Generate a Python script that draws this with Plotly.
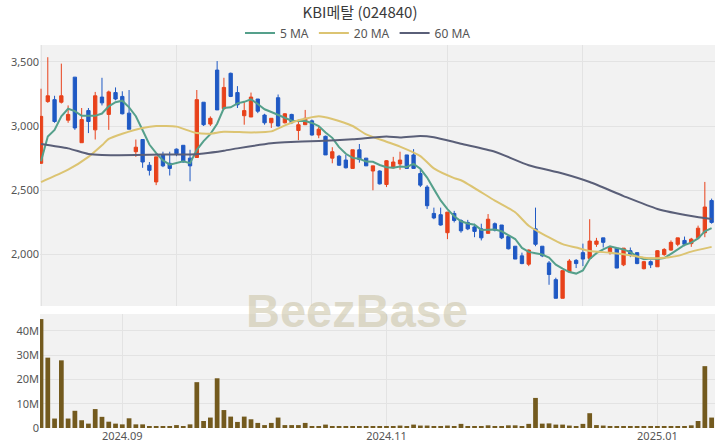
import plotly.graph_objects as go
import pandas as pd

# ---------------- data ----------------
dates = [
    "2024-08-14", "2024-08-16", "2024-08-19", "2024-08-20", "2024-08-21", "2024-08-22", "2024-08-23",
    "2024-08-26", "2024-08-27", "2024-08-28", "2024-08-29", "2024-08-30",
    "2024-09-02", "2024-09-03", "2024-09-04", "2024-09-05", "2024-09-06",
    "2024-09-09", "2024-09-10", "2024-09-11", "2024-09-12", "2024-09-13",
    "2024-09-19", "2024-09-20", "2024-09-23", "2024-09-24", "2024-09-25", "2024-09-26", "2024-09-27",
    "2024-09-30", "2024-10-02", "2024-10-04", "2024-10-07", "2024-10-08", "2024-10-10", "2024-10-11",
    "2024-10-14", "2024-10-15", "2024-10-16", "2024-10-17", "2024-10-18",
    "2024-10-21", "2024-10-22", "2024-10-23", "2024-10-24", "2024-10-25",
    "2024-10-28", "2024-10-29", "2024-10-30", "2024-10-31",
    "2024-11-01", "2024-11-04", "2024-11-05", "2024-11-06", "2024-11-07", "2024-11-08",
    "2024-11-11", "2024-11-12", "2024-11-13", "2024-11-14", "2024-11-15",
    "2024-11-18", "2024-11-19", "2024-11-20", "2024-11-21", "2024-11-22",
    "2024-11-25", "2024-11-26", "2024-11-27", "2024-11-28", "2024-11-29",
    "2024-12-02", "2024-12-03", "2024-12-04", "2024-12-05", "2024-12-06",
    "2024-12-09", "2024-12-10", "2024-12-11", "2024-12-12", "2024-12-13",
    "2024-12-16", "2024-12-17", "2024-12-18", "2024-12-19", "2024-12-20",
    "2024-12-23", "2024-12-24", "2024-12-26", "2024-12-27", "2024-12-30",
    "2025-01-02", "2025-01-03", "2025-01-06", "2025-01-07", "2025-01-08", "2025-01-09", "2025-01-10",
    "2025-01-13", "2025-01-14",
]

opens = [2710, 3190, 3205, 3185, 3045, 3380, 2870, 3120, 2970, 3225,
         3090, 3260, 3230, 3100, 2800, 2895, 2695, 2565, 2775, 2710,
         2820, 2850, 2750, 2755, 3185, 3015, 3435, 3135, 3410, 3260,
         3080, 3070, 3210, 3085, 3025, 3220, 3025, 3090, 2965, 3010,
         3040, 2930, 2920, 2750, 2765, 2735, 2670, 2815, 2750, 2650,
         2650, 2545, 2675, 2705, 2775, 2775, 2630, 2525, 2320, 2310,
         2170, 2320, 2265, 2250, 2215, 2200, 2165, 2240, 2230, 2140,
         2065, 1990, 1925, 2200, 2065, 1935, 1805, 1660, 1865, 1955,
         2015, 1970, 2080, 2130, 2015, 2050, 1920, 2030, 2015, 1890,
         1945, 1905, 2000, 2035, 2080, 2110, 2085, 2130, 2170, 2420]
highs = [3290, 3535, 3235, 3485, 3160, 3380, 3140, 3140, 3265, 3375,
         3275, 3300, 3270, 3280, 2895, 2895, 2720, 2760, 2800, 2800,
         2825, 2850, 2815, 3280, 3185, 3075, 3505, 3375, 3415, 3310,
         3190, 3260, 3210, 3095, 3060, 3245, 3100, 3095, 3050, 3125,
         3050, 2995, 2925, 2835, 2775, 2775, 2815, 2860, 2750, 2690,
         2655, 2735, 2760, 2800, 2775, 2820, 2660, 2540, 2365, 2365,
         2330, 2340, 2275, 2270, 2240, 2240, 2315, 2250, 2230, 2145,
         2065, 2015, 2040, 2365, 2065, 1950, 1820, 1875, 1965, 1965,
         2085, 2275, 2130, 2130, 2065, 2050, 2050, 2055, 2015, 1950,
         1955, 2035, 2050, 2110, 2130, 2140, 2130, 2225, 2565, 2435]
lows = [2705, 3180, 3025, 3175, 3025, 2970, 2870, 2945, 2895, 3160,
        2970, 3200, 3090, 2975, 2760, 2675, 2615, 2540, 2680, 2615,
        2765, 2715, 2570, 2755, 3000, 3000, 3125, 3125, 3225, 3140,
        3010, 3070, 3100, 3010, 2985, 2995, 3020, 3015, 2890, 3010,
        2925, 2905, 2775, 2710, 2690, 2670, 2670, 2715, 2690, 2500,
        2545, 2525, 2670, 2660, 2670, 2670, 2525, 2355, 2275, 2225,
        2120, 2250, 2170, 2190, 2135, 2110, 2165, 2180, 2120, 2040,
        1965, 1925, 1910, 2065, 1980, 1765, 1660, 1660, 1860, 1895,
        1910, 1970, 2060, 2055, 2000, 1895, 1910, 1980, 1925, 1885,
        1895, 1905, 1990, 2030, 2065, 2065, 2060, 2120, 2135, 2240]
closes = [3075, 3235, 3035, 3235, 3090, 2985, 3050, 3035, 3235, 3180,
          3265, 3210, 3095, 2975, 2835, 2720, 2655, 2760, 2690, 2670,
          2785, 2720, 2690, 3205, 3010, 3060, 3125, 3300, 3230, 3165,
          3120, 3225, 3115, 3025, 3060, 3000, 3095, 3025, 3010, 3060,
          2930, 2975, 2775, 2800, 2695, 2675, 2815, 2740, 2690, 2690,
          2550, 2730, 2720, 2735, 2670, 2670, 2540, 2380, 2285, 2230,
          2330, 2265, 2185, 2200, 2180, 2130, 2275, 2190, 2130, 2045,
          1965, 1930, 2035, 2080, 1990, 1845, 1660, 1875, 1950, 1930,
          1965, 2105, 2105, 2095, 2055, 1895, 2050, 2000, 1930, 1945,
          1920, 2030, 2040, 2095, 2130, 2080, 2120, 2205, 2370, 2250]
volumes_m = [44.9, 29.0, 3.9, 27.9, 3.9, 7.1, 3.2, 1.8, 7.8, 4.6,
             2.6, 1.8, 1.5, 4.0, 1.5, 1.5, 0.8, 0.8, 0.8, 0.8,
             1.2, 0.6, 1.5, 18.9, 2.9, 4.3, 20.5, 7.4, 4.7, 2.5,
             4.7, 3.6, 2.1, 1.2, 2.1, 4.3, 1.2, 1.2, 1.2, 2.1,
             0.8, 0.6, 1.4, 0.8, 0.6, 0.6, 0.8, 0.8, 0.5, 0.5,
             0.5, 0.7, 0.5, 1.0, 0.5, 1.4, 1.0, 1.0, 0.7, 0.7,
             1.0, 0.5, 1.7, 0.5, 0.5, 0.5, 1.1, 0.7, 0.7, 1.1,
             1.1, 0.7, 1.7, 12.4, 1.8, 1.9, 1.4, 1.4, 1.0, 0.7,
             1.7, 6.1, 1.2, 1.0, 0.7, 0.8, 0.8, 0.5, 0.5, 0.5,
             0.5, 0.7, 0.7, 0.7, 0.7, 0.5, 1.1, 2.9, 25.5, 4.3]

# 5-day MA: first four points, the rest is the 5-day mean of closes
ma5_head = [2725, 2918, 2970, 3075]

# 20-day MA at these bar positions
ma20_pos = [0, 4, 7, 9, 10, 12, 15, 17, 20, 22, 23, 25, 27, 31, 34, 36, 38, 41, 43,
            46, 48, 51, 53, 56, 58, 61, 62, 67, 70, 72, 75, 77, 79, 81, 84, 86, 89,
            91, 94, 96, 99]
ma20_vals = [2564, 2660, 2760, 2850, 2900, 2940, 2985, 3000, 2995, 2960, 2945, 2940,
             2955, 2950, 2958, 3005, 3045, 3075, 3055, 3000, 2935, 2878, 2840, 2766,
             2670, 2595, 2578, 2420, 2329, 2224, 2133, 2081, 2055, 2028, 2015, 2002,
             1976, 1971, 1990, 2023, 2060]

# 60-day MA at these bar positions
ma60_pos = [0, 4, 7, 9, 14, 18, 22, 24, 27, 29, 34, 36, 41, 46, 51, 53, 56, 58,
            62, 67, 72, 77, 81, 86, 91, 96, 99]
ma60_vals = [2860, 2826, 2782, 2774, 2774, 2779, 2779, 2787, 2808, 2826, 2866, 2874,
             2884, 2897, 2918, 2910, 2923, 2913, 2862, 2800, 2695, 2630, 2564, 2455,
             2355, 2300, 2277]

month_tick_dates = ["2024-09-02", "2024-11-04", "2025-01-02"]
month_tick_text = ["2024.09", "2024.11", "2025.01"]

title_text = "KBI메탈 (024840)"
watermark = "BeezBase"

# ---------------- derived ----------------
ma5 = pd.Series(closes).rolling(5).mean().tolist()
ma5[:4] = ma5_head
ma20_x = [dates[k] for k in ma20_pos]
ma60_x = [dates[k] for k in ma60_pos]
volumes = [v * 1e6 for v in volumes_m]

RED = "#E8421B"
BLUE = "#1F59C4"
VOL = "#735A1E"
C5 = "#55A08B"
C20 = "#DCC472"
C60 = "#5A5F78"

fig = go.Figure()
fig.add_trace(go.Candlestick(
    x=dates, open=opens, high=highs, low=lows, close=closes,
    increasing=dict(line=dict(color=RED, width=1), fillcolor=RED),
    decreasing=dict(line=dict(color=BLUE, width=1), fillcolor=BLUE),
    showlegend=False, xaxis="x", yaxis="y", hoverinfo="skip",
))
fig.add_trace(go.Scatter(x=dates, y=ma5, mode="lines", name="5 MA",
                         line=dict(color=C5, width=2), xaxis="x", yaxis="y"))
fig.add_trace(go.Scatter(x=ma20_x, y=ma20_vals, mode="lines", name="20 MA",
                         line=dict(color=C20, width=2, shape="spline", smoothing=0.6),
                         xaxis="x", yaxis="y"))
fig.add_trace(go.Scatter(x=ma60_x, y=ma60_vals, mode="lines", name="60 MA",
                         line=dict(color=C60, width=2, shape="spline", smoothing=0.6),
                         xaxis="x", yaxis="y"))
fig.add_trace(go.Bar(x=dates, y=volumes, marker=dict(color=VOL, line=dict(width=0)),
                     showlegend=False, xaxis="x2", yaxis="y2"))

W, H = 720, 448
ml, mr, mt, mb = 40, 5, 45, 20
plot_h = H - mt - mb
plot_w = W - ml - mr
price_bottom = (H - mb - 306) / plot_h
vol_top = (H - mb - 314) / plot_h

tickfont = dict(family="Noto Sans, Roboto, sans-serif", size=11, color="#555555")
grid = "#E3E3E3"
xr = [-0.15, len(dates) - 0.5]

fig.update_layout(
    width=W, height=H,
    margin=dict(l=ml, r=mr, t=mt, b=mb, autoexpand=False),
    paper_bgcolor="white", plot_bgcolor="#F2F2F2",
    bargap=0.3,
    title=dict(text=title_text, x=0.5, xanchor="center", yref="container",
               y=1 - 13 / H, yanchor="middle", pad=dict(t=0, b=0),
               font=dict(family="Noto Sans CJK KR, Noto Sans, sans-serif", size=15, color="#3A3A3A")),
    legend=dict(orientation="h", xref="paper", x=(358 - ml) / plot_w, xanchor="center",
                yref="container", y=1 - 33 / H, yanchor="middle",
                font=dict(family="Noto Sans, Roboto, sans-serif", size=12, color="#555555"),
                bgcolor="rgba(0,0,0,0)", itemwidth=30, tracegroupgap=0),
    xaxis=dict(type="category", domain=[0, 1], anchor="y", range=xr,
               rangeslider=dict(visible=False), showticklabels=False,
               tickmode="array", tickvals=[dates[k] for k in (0, 20, 40, 60, 80)],
               showgrid=True, gridcolor=grid, zeroline=False, showline=False, ticks=""),
    yaxis=dict(domain=[price_bottom, 1], anchor="x", range=[1600, 3630],
               tickmode="linear", tick0=0, dtick=500, tickformat=",",
               showgrid=True, gridcolor=grid, zeroline=False, tickfont=tickfont, ticks=""),
    xaxis2=dict(type="category", domain=[0, 1], anchor="y2", matches="x", range=xr,
                tickmode="array", tickvals=month_tick_dates, ticktext=month_tick_text,
                showgrid=True, gridcolor=grid, zeroline=False, showline=False, ticks="",
                tickfont=tickfont),
    yaxis2=dict(domain=[0, vol_top], anchor="x2", range=[0, 47e6],
                tickmode="linear", tick0=0, dtick=1e7, tickformat="~s",
                showgrid=True, gridcolor=grid, zeroline=False, tickfont=tickfont, ticks=""),
    annotations=[dict(text=watermark, xref="paper", yref="paper", x=(357 - ml) / plot_w,
                      y=(H - mb - 311) / plot_h, xanchor="center", yanchor="middle",
                      showarrow=False,
                      font=dict(family="Liberation Sans, Arial, sans-serif", size=47,
                                color="rgba(200,192,160,0.55)", weight="bold"))],
)

# remove the browser's default 8px page margin so the 720x448 figure fills the window
fig.write_html("out.html", config={"displayModeBar": False},
               post_script="document.body.style.margin='0px';")
